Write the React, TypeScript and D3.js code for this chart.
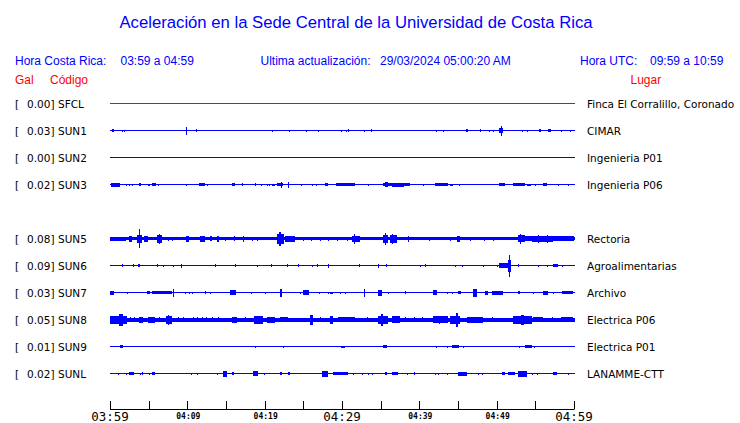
import React from "react";
import * as d3 from "d3";

type Ev = [number, number, number];

const codes = ["SFCL", "SUN1", "SUN2", "SUN3", "SUN5", "SUN6", "SUN7", "SUN8", "SUN9", "SUNL"];
const gals = ["0.00", "0.03", "0.00", "0.02", "0.08", "0.09", "0.03", "0.05", "0.01", "0.02"];
const places = [
  "Finca El Corralillo, Coronado",
  "CIMAR",
  "Ingenieria P01",
  "Ingenieria P06",
  "Rectoria",
  "Agroalimentarias",
  "Archivo",
  "Electrica P06",
  "Electrica P01",
  "LANAMME-CTT",
];
const slots = [0, 1, 2, 3, 5, 6, 7, 8, 9, 10];
const baseAmp = [0.5, 0.5, 0.5, 0.5, 1.5, 0.5, 0.5, 2, 0.5, 0.5];
const traceColors = ["#ff0000", "#0000ff", "#0000ff", "#0000ff", "#0000ff", "#0000ff", "#0000ff", "#0000ff", "#0000ff", "#0000ff"];

const tickMinutes = [0, 5, 10, 15, 20, 25, 30, 35, 40, 45, 50, 55, 60];
const labelMinutes = [0, 10, 20, 30, 40, 50, 60];
const tickLabels = ["03:59", "04:09", "04:19", "04:29", "04:39", "04:49", "04:59"];
const bigLabels = [true, false, false, true, false, false, true];

const evSFCL: Ev[] = [];
const evSUN1: Ev[] = [[0.3,0.5,1.5],[1.55,1.55,1],[1.81,1.81,1],[9.8,9.95,4],[11.12,11.12,1.5],[16.81,16.81,0.8],[20.95,20.95,1],[23.15,23.15,1],[25.34,25.34,1],[26.9,26.9,1],[29.87,30.0,1],[30.52,30.52,1],[30.78,30.91,1.5],[32.84,32.84,1],[33.75,33.75,1.5],[42.16,42.16,1],[43.06,43.06,1],[44.61,44.61,0.8],[46.03,46.29,1.5],[47.84,47.84,1.5],[49.01,49.01,1],[49.53,49.53,1],[50.3,50.82,2.5],[50.5,50.65,5],[53.28,53.28,1],[53.92,53.92,1],[55.47,55.73,1.5],[56.64,57.03,1.5],[58.32,58.32,1],[59.48,59.48,1]];
const evSUN2: Ev[] = [];
const evSUN3: Ev[] = [[0.1,1.3,2],[2.07,2.07,1],[2.46,2.46,1],[2.84,2.84,1],[3.8,4.0,1.5],[4.9,5.17,1],[5.43,5.95,1.5],[6.2,6.2,1],[8.28,8.28,0.8],[9.83,9.83,1],[11.51,12.28,1.5],[12.5,12.5,1],[13.3,13.3,0.8],[15.78,16.16,1.5],[17.07,17.07,1.5],[18.75,18.75,1.5],[19.53,19.53,1],[20.3,20.3,1],[20.6,20.6,1],[21.0,21.3,1],[21.59,22.37,1.5],[22.1,22.2,3],[23.0,23.2,3],[24.7,24.7,1],[25.7,25.7,0.8],[26.12,26.12,1],[26.6,26.6,1],[27.8,28.19,1.5],[29.22,31.68,1.5],[33.36,33.36,1],[35.3,38.79,1.5],[35.56,36.0,2.5],[36.5,38.0,2],[40.47,40.47,1],[42.03,43.71,1.5],[43.97,44.4,1],[45.13,45.13,1],[47.1,47.1,0.8],[49.2,49.2,0.8],[50.3,51.08,1.5],[52.11,53.66,1.5],[53.9,54.4,1],[55.0,55.0,1],[56.0,56.51,1.5],[57.93,57.93,1],[59.22,59.22,1]];
const evSUN5: Ev[] = [[0,2.07,2],[2.46,2.84,3],[3.5,4.14,4],[3.75,3.88,9.5],[4.40,4.91,3],[6.08,6.72,4],[6.3,6.5,5],[7.5,7.5,2],[8.0,8.0,2],[9.83,10.22,3],[11.64,12.28,3],[12.9,13.2,2.5],[13.84,14.09,3],[14.9,14.9,2],[16.03,16.03,2.5],[17.2,17.2,3],[18.3,18.3,2],[19.0,19.0,2],[21.59,22.5,5],[21.85,22.05,7],[22.63,23.92,3],[24.9,24.9,2],[26.0,26.0,2],[27.1,27.1,2],[28.2,28.2,2],[29.4,29.4,2],[30.6,30.6,2],[31.29,32.33,3],[31.5,31.7,5],[35.3,35.95,4],[35.56,35.7,6],[36.21,37.11,4],[36.5,36.6,5],[38.53,38.53,3],[41.2,41.2,2],[44.0,44.0,2],[44.87,45.26,3],[46.6,46.6,2],[48.3,48.3,2],[49.5,49.5,2],[52.76,60,2.2],[52.76,53.66,3.5],[53.0,53.2,5],[54.57,57.28,3],[55.3,55.5,4],[56.5,56.7,4],[58.45,59.87,2.5]];
const evSUN6: Ev[] = [[1.55,1.55,1.5],[2.97,2.97,1.5],[3.62,3.88,1.5],[6.08,6.08,1.5],[6.85,6.85,1],[8.15,8.28,1],[9.18,9.18,2],[13.58,13.58,1.5],[16.16,16.16,1.5],[19.01,19.01,1],[20.82,20.82,1.5],[22.89,22.89,1.5],[24.31,24.31,1.5],[26.12,26.12,1],[26.77,26.77,1.5],[28.19,28.19,2],[32.2,32.2,1.5],[34.66,34.66,2],[35.69,35.69,1.5],[40.09,40.09,1],[40.73,40.73,1.5],[44.61,44.61,1],[45.52,45.52,1],[48.23,48.23,1],[50.04,50.04,1],[50.3,51.47,2.5],[51.5,51.85,6],[51.65,51.75,11],[52.76,52.76,1.5],[55.34,55.34,1],[56.51,56.51,1],[57.28,57.93,1.5],[58.45,58.45,1]];
const evSUN7: Ev[] = [[0,0.52,2],[2.2,2.2,1],[4.78,5.17,1.5],[5.43,8.02,1.5],[8.15,8.28,4],[9.7,9.7,1],[10.2,10.2,1],[10.6,10.6,1],[12.28,12.28,1.5],[12.9,12.9,1],[14.2,14.2,0.8],[15.52,16.29,2.5],[18.2,18.2,1],[20.0,20.0,1],[21.98,22.24,4],[24.6,24.6,1],[24.96,25.73,2.5],[27.0,27.0,1],[28.2,28.2,1],[28.45,28.84,1],[29.8,29.8,1],[30.39,30.39,1],[32.84,32.84,4],[34.66,35.17,3],[36.0,36.0,1],[38.15,38.15,1.5],[41.77,42.28,2.5],[43.6,43.6,1],[44.2,44.2,1],[45.0,45.4,1.5],[46.94,47.45,4],[48.49,48.88,2],[49.4,50.82,2],[52.76,53.02,1.5],[54.7,54.7,1],[55.99,56.64,2],[57.3,57.3,1],[58.45,59.87,1.5]];
const evSUN8: Ev[] = [[0,2.2,4],[1.2,1.7,6],[2.6,2.6,2.5],[3.1,3.1,2.5],[3.75,4.27,3],[4.91,5.82,3],[6.3,6.3,2.5],[7.24,8.02,4],[7.5,7.6,5],[8.8,8.8,2.5],[9.5,9.5,2.5],[10.7,10.7,2.5],[11.2,11.2,2.5],[11.9,11.9,2.5],[12.4,12.4,2.5],[13.2,13.2,2.5],[14.0,14.0,2.5],[15.78,16.42,3],[17.4,17.4,2.5],[18.62,19.78,4],[20.3,21.34,3],[21.98,23.02,2.5],[25.86,26.25,5],[27.1,27.1,2.5],[28.45,28.84,4],[29.5,31.68,2.5],[33.2,33.2,2.5],[34.66,35.95,4],[35.1,35.3,6],[36.47,37.5,3.5],[38.2,38.2,2.5],[39.3,39.3,2.5],[40.4,40.4,2.5],[41.77,43.71,3.5],[42.5,42.7,4],[43.97,45.26,4],[44.8,45.0,7],[46.16,48.23,3],[49.4,49.4,2.5],[52.11,54.57,4],[53.2,53.5,5],[54.7,55.99,2.5],[57.2,57.2,2.5],[58.3,59.87,2.5]];
const evSUN9: Ev[] = [[1.29,1.68,1.5],[18.75,18.75,1],[22.37,22.37,1],[29.87,29.87,1],[30.0,30.39,1],[35.3,35.82,1.5],[42.16,42.16,1],[43.58,43.58,1],[44.22,45.13,1.5],[45.65,45.65,1],[51.2,51.2,0.8],[52.89,52.89,1],[53.66,54.57,1.5],[54.83,54.83,1]];
const evSUNL: Ev[] = [[1.03,1.03,1],[2.07,2.07,1],[2.46,3.1,1.5],[3.88,3.88,1],[4.14,4.27,1.5],[5.04,5.04,1],[5.43,5.82,1.5],[10.47,10.47,1],[11.25,11.25,1],[13.84,13.84,1],[14.61,15.13,3],[15.78,16.03,1.5],[18.49,19.14,2.5],[19.91,19.91,1],[21.98,22.24,1.5],[23.02,23.28,1.5],[27.41,28.19,3],[28.84,30.78,1.5],[31.42,31.42,1],[32.6,32.6,1],[33.4,33.4,1],[33.9,33.9,1],[35.56,35.82,1.5],[36.47,37.24,1.5],[38.4,38.4,1],[39.3,39.3,1.5],[42.0,42.0,1],[42.4,42.4,1],[43.6,43.6,1],[45.0,46.16,2],[47.6,47.6,1],[48.1,48.1,1],[50.7,51.1,1.5],[51.5,52.4,1.5],[52.76,53.92,3],[54.57,54.57,1],[55.2,55.2,1],[57.3,57.8,1.5],[59.2,59.2,1]];
const events: Ev[][] = [evSFCL, evSUN1, evSUN2, evSUN3, evSUN5, evSUN6, evSUN7, evSUN8, evSUN9, evSUNL];

const BLUE = "#0000ff";
const RED = "#ff0000";
const SANS = "'Liberation Sans', Arial, sans-serif";
const DEJA = "'DejaVu Sans', sans-serif";
const MONO = "'DejaVu Sans Mono', monospace";

export default function App() {
  const x = d3.scaleLinear().domain([0, 60]).range([110, 574]);
  const yRow = d3.scaleLinear().domain([0, 10]).range([103.5, 373.5]);
  const amp = d3.scaleLinear().domain([0, 1]).range([0, 1]);
  const axisY = 409;

  return (
    <svg
      width={740}
      height={423}
      style={{ position: "absolute", left: 0, top: 0, display: "block", background: "#fff" }}
    >
      <rect width={740} height={423} fill="#fff" />
      <text x={356} y={28} textAnchor="middle" fontFamily={SANS} fontSize={16.7} fill={BLUE}>
        Aceleración en la Sede Central de la Universidad de Costa Rica
      </text>
      <text x={15} y={65} fontFamily={SANS} fontSize={12} fill={BLUE}>Hora Costa Rica:</text>
      <text x={120.5} y={65} fontFamily={SANS} fontSize={12} fill={BLUE}>03:59 a 04:59</text>
      <text x={260.5} y={65} fontFamily={SANS} fontSize={12} fill={BLUE}>Ultima actualización:</text>
      <text x={380} y={65} fontFamily={SANS} fontSize={12} fill={BLUE}>29/03/2024 05:00:20 AM</text>
      <text x={580} y={65} fontFamily={SANS} fontSize={12} fill={BLUE}>Hora UTC:</text>
      <text x={650} y={65} fontFamily={SANS} fontSize={12} fill={BLUE}>09:59 a 10:59</text>
      <text x={15} y={84} fontFamily={SANS} fontSize={12} fill={RED}>Gal</text>
      <text x={50} y={84} fontFamily={SANS} fontSize={12} fill={RED}>Código</text>
      <text x={630.5} y={84} fontFamily={SANS} fontSize={12} fill={RED}>Lugar</text>

      {codes.map((c, i) => {
        const cy = yRow(slots[i]);
        const col = traceColors[i];
        const b = amp(baseAmp[i]);
        return (
          <g key={c}>
            <text x={15} y={cy + 4} fontFamily={DEJA} fontSize={10.5} fill="#000">[</text>
            <text x={54.5} y={cy + 4} textAnchor="end" fontFamily={DEJA} fontSize={10.5} fill="#000">{gals[i] + "]"}</text>
            <text x={58} y={cy + 4} fontFamily={DEJA} fontSize={10.5} fill="#000">{c}</text>
            <text x={587} y={cy + 4} fontFamily={DEJA} fontSize={10.5} fill="#000">{places[i]}</text>
            <rect
              x={x(0)}
              y={cy - b}
              width={x(60) - x(0) + 1}
              height={2 * b}
              fill={col}
              shapeRendering="crispEdges"
            />
            {events[i].map((e, k) => {
              const a = amp(e[2]);
              const x0 = x(e[0]);
              const w = Math.max(1, x(e[1]) - x0);
              return (
                <rect
                  key={k}
                  x={x0}
                  y={cy - a}
                  width={w}
                  height={2 * a}
                  fill={col}
                  shapeRendering="crispEdges"
                />
              );
            })}
          </g>
        );
      })}

      <line x1={x(0)} x2={x(60)} y1={axisY + 0.5} y2={axisY + 0.5} stroke="#000" strokeWidth={1} />
      {tickMinutes.map((m) => (
        <line key={m} x1={Math.round(x(m)) + 0.5} x2={Math.round(x(m)) + 0.5} y1={axisY + 0.5} y2={axisY - 8} stroke="#000" strokeWidth={1} />
      ))}
      {labelMinutes.map((m, i) =>
        bigLabels[i] ? (
          <text key={m} x={x(m)} y={421} textAnchor="middle" fontFamily={MONO} fontSize={12.5} fill="#000">
            {tickLabels[i]}
          </text>
        ) : (
          <text key={m} x={x(m) + 1} y={418.5} textAnchor="middle" fontFamily={MONO} fontWeight="bold" fontSize={8} fill="#000">
            {tickLabels[i]}
          </text>
        )
      )}
    </svg>
  );
}
